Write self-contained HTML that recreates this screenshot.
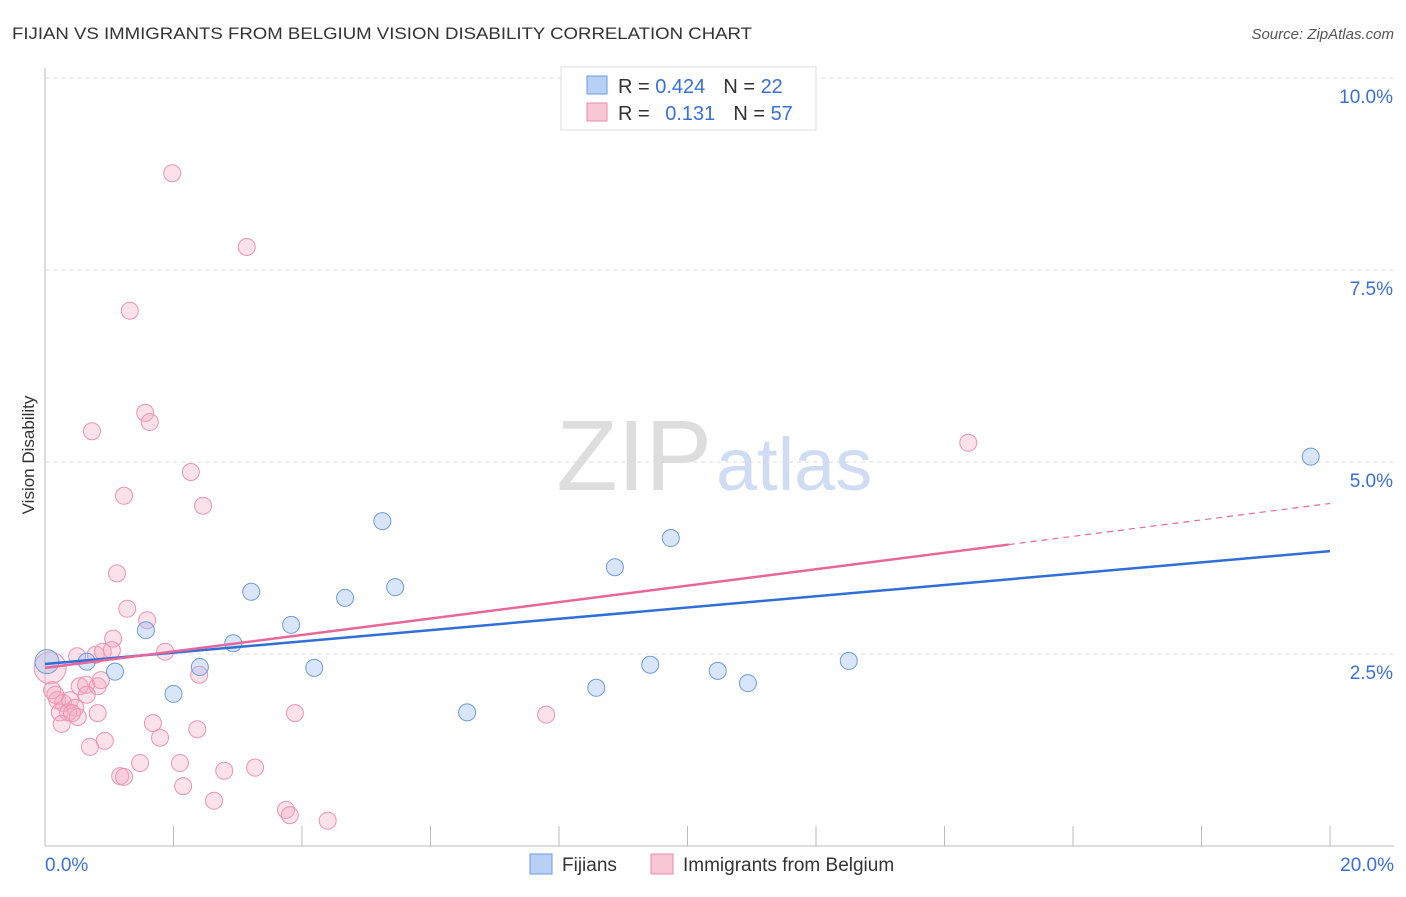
<!DOCTYPE html>
<html><head><meta charset="utf-8"><style>
body{margin:0;background:#fff;font-family:"Liberation Sans",sans-serif}
svg text{font-family:"Liberation Sans",sans-serif}
</style></head><body>
<svg id="chart" width="1406" height="892">
<text x="12" y="39" font-size="17" fill="#333" textLength="740" lengthAdjust="spacingAndGlyphs">FIJIAN VS IMMIGRANTS FROM BELGIUM VISION DISABILITY CORRELATION CHART</text>
<text x="1394" y="39" font-size="15" fill="#555" font-style="italic" text-anchor="end">Source: ZipAtlas.com</text>
<text x="34" y="455" font-size="17" fill="#333" transform="rotate(-90 34 455)" text-anchor="middle">Vision Disability</text>
<text x="712" y="490" font-size="100" fill="#ddd" text-anchor="end" font-family="Liberation Serif">ZIP</text>
<text x="716" y="490" font-size="74" fill="#cfdcf3">atlas</text>
<g id="grid"></g><g id="axes"></g><g id="pts"></g><g id="lines"></g>
<g>
<rect x="561" y="67" width="255" height="63" fill="#fff" stroke="#ddd"/>
<rect x="587" y="76" width="20" height="18" fill="#b8d0f5" stroke="#6e9be0"/>
<rect x="587" y="103" width="20" height="18" fill="#f9c6d6" stroke="#e88aa8"/>
<text x="618" y="93" font-size="20" fill="#333">R = <tspan fill="#3a6fd8">0.424</tspan><tspan dx="18" fill="#333">N = </tspan><tspan fill="#3a6fd8">22</tspan></text>
<text x="618" y="120" font-size="20" fill="#333">R = <tspan dx="10" fill="#3a6fd8">0.131</tspan><tspan dx="18" fill="#333">N = </tspan><tspan fill="#3a6fd8">57</tspan></text>
</g>
<g>
<rect x="530" y="854" width="22" height="20" fill="#b8d0f5" stroke="#6e9be0"/>
<text x="562" y="871" font-size="19" fill="#333">Fijians</text>
<rect x="651" y="854" width="22" height="20" fill="#f9c6d6" stroke="#e88aa8"/>
<text x="683" y="871" font-size="19" fill="#333">Immigrants from Belgium</text>
</g>
</svg>
<script>
const yTicks=[2.5,5.0,7.5,10.0];
const xTickLabels=["0.0%","20.0%"];
const fijX=[0.03,0.65,1.09,1.57,2.0,2.41,2.93,3.21,3.83,4.19,4.67,5.25,5.45,6.57,8.58,8.87,9.42,9.74,10.47,10.94,12.51,19.70];
const fijY=[2.40,2.40,2.27,2.81,1.98,2.33,2.64,3.31,2.88,2.32,3.23,4.23,3.37,1.74,2.06,3.63,2.36,4.01,2.28,2.12,2.41,5.07];
const belX=[1.98,3.14,1.32,1.56,1.63,0.73,2.27,1.23,2.46,1.12,1.28,1.59,1.06,1.87,0.79,0.50,0.90,1.04,2.40,0.08,0.11,0.19,0.28,0.39,0.47,0.54,0.64,0.82,0.65,0.87,0.23,0.36,0.51,0.82,0.26,0.93,0.70,1.68,1.79,2.37,3.89,7.80,14.37,1.48,2.10,2.79,3.27,1.17,1.23,2.15,2.63,3.75,3.81,4.40,0.16,0.42];
const belY=[8.76,7.80,6.97,5.64,5.52,5.40,4.87,4.56,4.43,3.55,3.09,2.94,2.70,2.53,2.49,2.47,2.53,2.55,2.23,2.32,2.03,1.90,1.86,1.90,1.80,2.08,2.10,2.08,1.97,2.16,1.74,1.74,1.68,1.73,1.59,1.37,1.29,1.60,1.41,1.52,1.73,1.71,5.25,1.08,1.08,0.98,1.02,0.91,0.90,0.78,0.59,0.47,0.40,0.33,1.97,1.73];
const fijTrend=[2.37,3.84];
const belTrend=[2.32,4.46];
const belSolidEnd=15.0;
const NS="http://www.w3.org/2000/svg";
const sx=v=>45+v*64.25, sy=v=>846-v*76.8;
function mk(parent,tag,attrs){const e=document.createElementNS(NS,tag);for(const k in attrs)e.setAttribute(k,attrs[k]);document.getElementById(parent).appendChild(e);return e;}
yTicks.forEach(t=>{
 const l=mk('grid','line',{x1:45,x2:1394,y1:sy(t),y2:sy(t),stroke:'#ddd','stroke-dasharray':'4 4'});
 
 
 const tx=mk('grid','text',{x:1393,y:sy(t)+25,'font-size':19,fill:'#3a6fd8','text-anchor':'end'});
 tx.textContent=t.toFixed(1)+'%';
 
 
});
const ax=mk('axes','line',{x1:45,x2:45,y1:68,y2:846,stroke:'#bbb'});


const bx=mk('axes','line',{x1:45,x2:1394,y1:846,y2:846,stroke:'#bbb'});


for(let i=1;i<=10;i++){const t=mk('axes','line',{x1:sx(i*2),x2:sx(i*2),y1:826,y2:846,stroke:'#bbb'});
 
 }
[[0,'start',45],[20,'end',1394]].forEach((p,i)=>{const t=mk('axes','text',{x:p[2],y:871,'font-size':19,fill:'#3a6fd8','text-anchor':p[1]});t.textContent=xTickLabels[i];
 
 });
belX.forEach((x,i)=>{const c=mk('pts','circle',{cx:sx(x),cy:sy(belY[i]),r:i==19?16:8.5,fill:'rgba(244,170,195,0.35)',stroke:'#eb94b1','stroke-width':1});
 
 });
fijX.forEach((x,i)=>{const c=mk('pts','circle',{cx:sx(x),cy:sy(fijY[i]),r:i==0?12:8.5,fill:'rgba(160,192,240,0.4)',stroke:'#6e9be0','stroke-width':1});
 
 });
const fl=mk('lines','line',{x1:sx(0),y1:sy(fijTrend[0]),x2:sx(20),y2:sy(fijTrend[1]),stroke:'#2f6fd6','stroke-width':2.5});


const bm=belTrend[0]+(belTrend[1]-belTrend[0])*belSolidEnd/20;
const pl=mk('lines','line',{x1:sx(0),y1:sy(belTrend[0]),x2:sx(belSolidEnd),y2:sy(bm),stroke:'#e8679a','stroke-width':2.5});


const pd=mk('lines','line',{x1:sx(belSolidEnd),y1:sy(bm),x2:sx(20),y2:sy(belTrend[1]),stroke:'#e8679a','stroke-width':1.2,'stroke-dasharray':'6 5'});


</script>
</body></html>
